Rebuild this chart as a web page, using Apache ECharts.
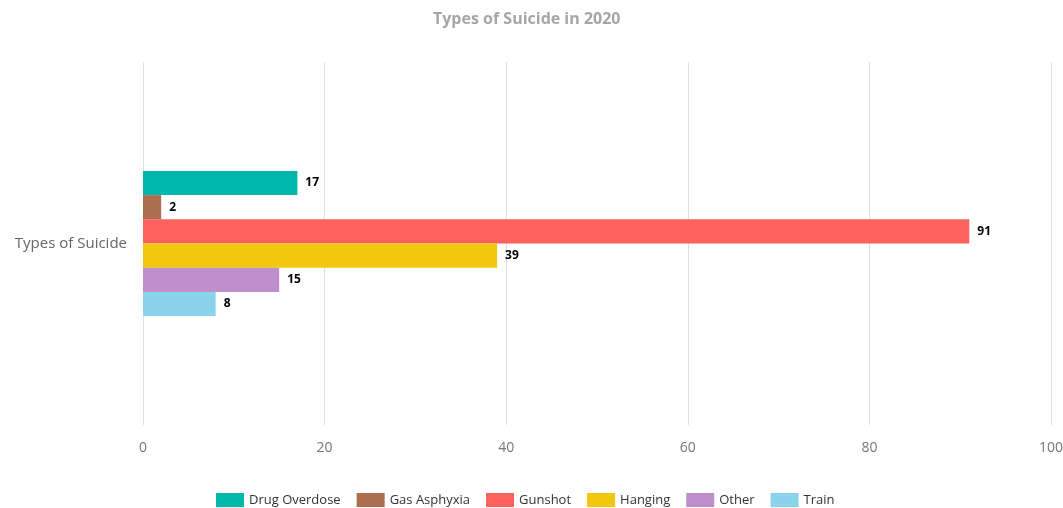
<!DOCTYPE html>
<html lang="en">
<head>
    <meta charset="UTF-8">
    <title>Types of Suicide in 2020</title>
    <script src="https://cdn.jsdelivr.net/npm/echarts@6/dist/echarts.min.js"></script>
    <style>
        html, body, #chart {
            height: 100%;
            padding: 0;
            margin: 0;
        }
    </style>
</head>
<body>
<div id="chart"></div>
<script>
    var categories = ["Types of Suicide"];
    var seriesNames = ["Drug Overdose", "Gas Asphyxia", "Gunshot", "Hanging", "Other", "Train"];
    var seriesValues = [17, 2, 91, 39, 15, 8];
    var colors = ["#01B8AA", "#AD6E4D", "#FD625E", "#F2C80F", "#BF8FCB", "#8AD4EB"];
    var xTicks = [0, 20, 40, 60, 80, 100];

    var myChart = echarts.init(document.getElementById("chart"));

    myChart.setOption({
        textStyle: {fontFamily: "Open Sans"},
        title: {
            text: "Types of Suicide in 2020",
            left: 428,
            top: 6,
            textStyle: {
                color: "#a6a6a6",
                fontSize: 16,
                fontWeight: "bold",
                fontFamily: "Open Sans"
            }
        },
        color: colors,
        legend: {
            top: 493,
            left: 216,
            itemWidth: 28,
            itemHeight: 14,
            itemGap: 16,
            icon: "rect",
            padding: 0,
            textStyle: {color: "#333", fontSize: 13, fontFamily: "Open Sans"},
            data: seriesNames
        },
        grid: {
            left: 143,
            right: 12,
            top: 62,
            bottom: 83,
            containLabel: false,
            outerBoundsMode: "none"
        },
        xAxis: {
            type: "value",
            min: xTicks[0],
            max: xTicks[xTicks.length - 1],
            interval: 20,
            axisLine: {show: false},
            axisTick: {show: false},
            axisLabel: {color: "#777", fontSize: 14, margin: 16},
            splitLine: {lineStyle: {color: "#e0e0e0"}}
        },
        yAxis: {
            type: "category",
            data: categories,
            axisLine: {show: false},
            axisTick: {show: false},
            axisLabel: {color: "#666", fontSize: 15, margin: 16}
        },
        series: seriesNames.map(function (name, i) {
            return {
                name: name,
                type: "bar",
                barGap: "0%",
                barCategoryGap: "60%",
                data: [seriesValues[i]],
                label: {
                    show: true,
                    position: "right",
                    distance: 8,
                    color: "#000",
                    fontWeight: "bold",
                    fontSize: 12,
                    fontFamily: "Open Sans"
                }
            };
        })
    });
</script>
</body>
</html>
